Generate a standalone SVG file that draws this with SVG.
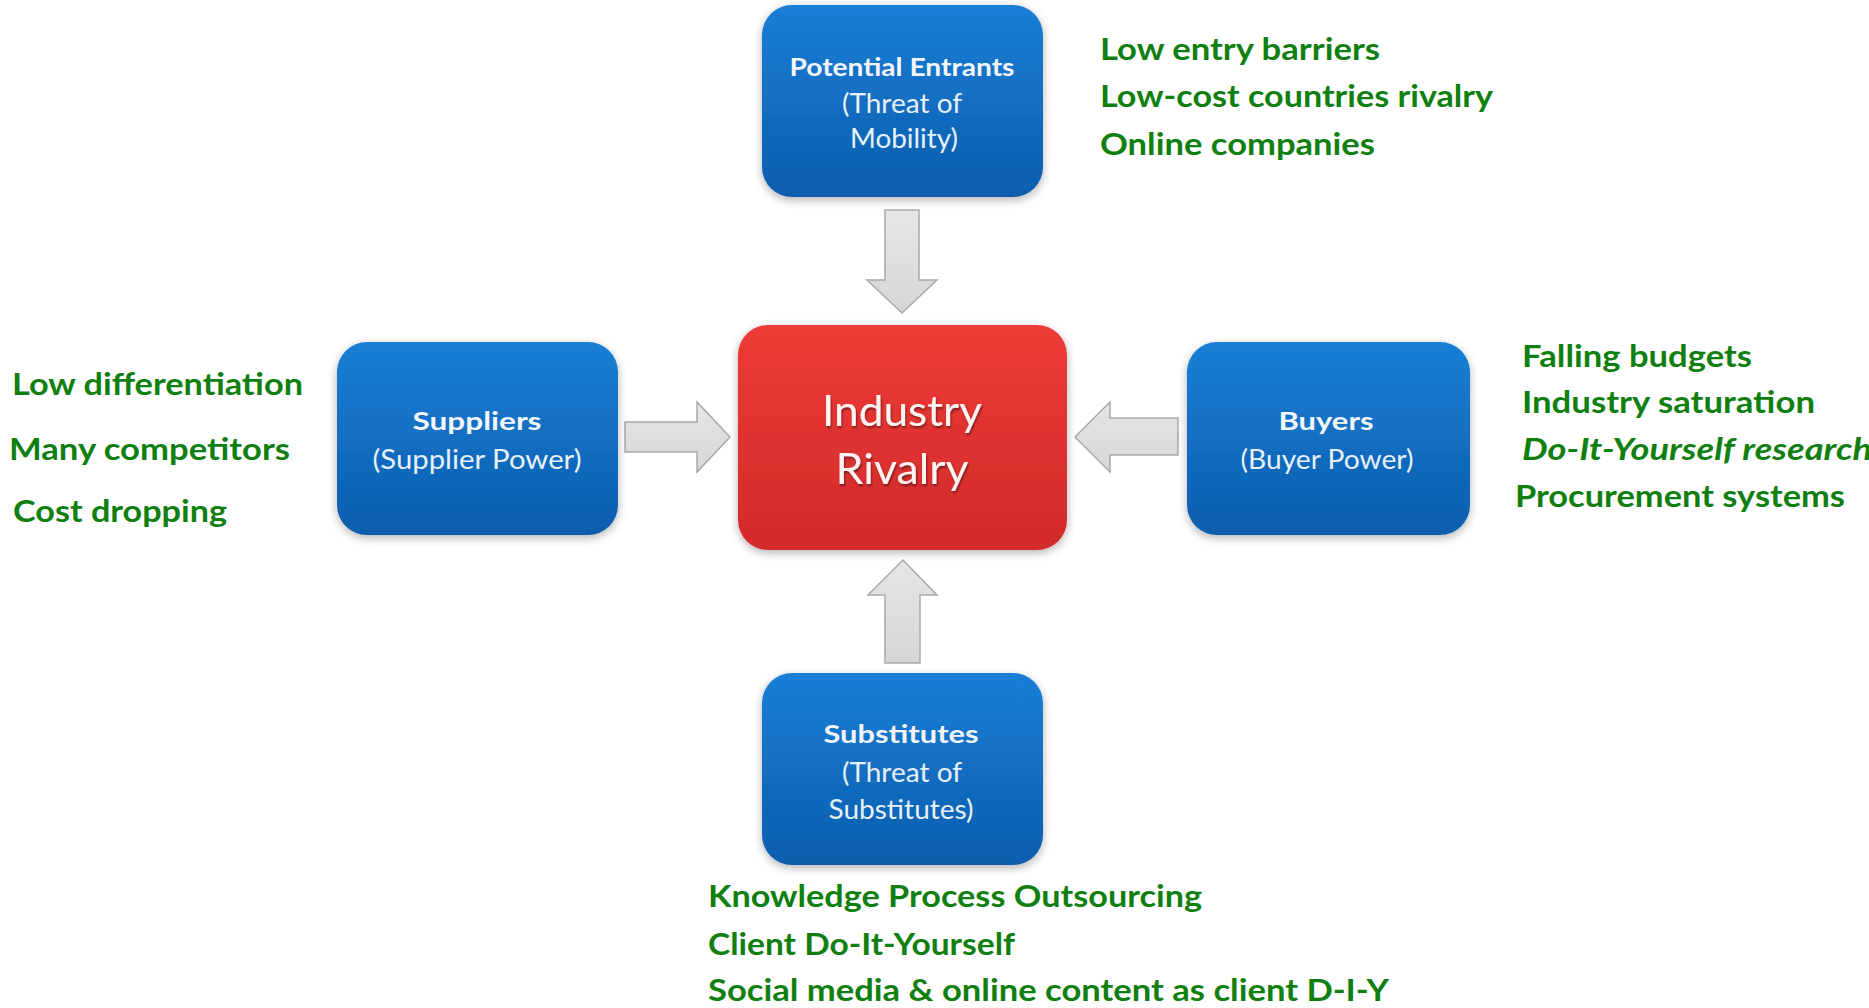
<svg xmlns="http://www.w3.org/2000/svg" width="1869" height="1008" viewBox="0 0 1869 1008">
  <style>
    .box-blue { fill: url(#gBlue); }
    .box-red { fill: url(#gRed); }
    .box { filter: url(#soft); }
    .title { font-family: Lato, "Open Sans", sans-serif; font-weight: 700; fill: #f3f7fc; text-anchor: middle; }
    .sub { font-family: Lato, "Open Sans", sans-serif; font-weight: 400; fill: #e8f0fa; text-anchor: middle; }
    .big { font-family: Lato, "Open Sans", sans-serif; font-weight: 400; fill: #fdf3f3; text-anchor: middle; filter: url(#txtShadow); }
    .note { font-family: Lato, "Open Sans", sans-serif; font-weight: 700; fill: #0f800f; font-size: 31px; }
    .arrow { fill: url(#gArrow); stroke: #a9a9a9; stroke-width: 1.5; }
  </style>
  <defs>
    <linearGradient id="gBlue" x1="0" y1="0" x2="0" y2="1">
      <stop offset="0" stop-color="#1a7fd6"/>
      <stop offset="1" stop-color="#0b5dad"/>
    </linearGradient>
    <linearGradient id="gRed" x1="0" y1="0" x2="0" y2="1">
      <stop offset="0" stop-color="#ee3b37"/>
      <stop offset="1" stop-color="#d22a2b"/>
    </linearGradient>
    <linearGradient id="gArrow" x1="0" y1="0" x2="0" y2="1">
      <stop offset="0" stop-color="#e6e6e6"/>
      <stop offset="1" stop-color="#d6d6d6"/>
    </linearGradient>
    <filter id="soft" x="-10%" y="-10%" width="120%" height="125%">
      <feGaussianBlur in="SourceAlpha" stdDeviation="5"/>
      <feOffset dx="0" dy="3" result="b"/>
      <feComponentTransfer><feFuncA type="linear" slope="0.3"/></feComponentTransfer>
      <feMerge><feMergeNode/><feMergeNode in="SourceGraphic"/></feMerge>
    </filter>
    <filter id="txtShadow" x="-10%" y="-20%" width="120%" height="140%">
      <feGaussianBlur in="SourceAlpha" stdDeviation="1.2"/>
      <feOffset dx="1" dy="2"/>
      <feComponentTransfer><feFuncA type="linear" slope="0.45"/></feComponentTransfer>
      <feMerge><feMergeNode/><feMergeNode in="SourceGraphic"/></feMerge>
    </filter>
  </defs>

  <rect width="1869" height="1008" fill="#ffffff"/>

  <!-- block arrows pointing into the central box -->
  <g id="connectors">
    <path class="arrow" d="M885,210 H919 V280 H937 L902,313 L867,280 H885 Z"/>
    <path class="arrow" d="M625,422 H697 V402 L730,437 L697,472 V452 H625 Z"/>
    <path class="arrow" d="M1178,418 H1110 V402 L1075,437 L1110,472 V455 H1178 Z"/>
    <path class="arrow" d="M885,663 V595 H868 L903,560 L937,595 H920 V663 Z"/>
  </g>

  <g id="potential-entrants">
    <rect class="box box-blue" x="762" y="5" width="281" height="192" rx="30"/>
    <text class="title" x="902" y="76" font-size="25" textLength="225" lengthAdjust="spacingAndGlyphs">Potential Entrants</text>
    <text class="sub" x="902" y="113" font-size="26" textLength="120" lengthAdjust="spacingAndGlyphs">(Threat of</text>
    <text class="sub" x="904" y="148" font-size="26" textLength="108" lengthAdjust="spacingAndGlyphs">Mobility)</text>
  </g>

  <g id="industry-rivalry">
    <rect class="box box-red" x="738" y="325" width="329" height="225" rx="30"/>
    <text class="big" x="902" y="426" font-size="42" textLength="160" lengthAdjust="spacingAndGlyphs">Industry</text>
    <text class="big" x="902" y="484" font-size="42" textLength="133" lengthAdjust="spacingAndGlyphs">Rivalry</text>
  </g>

  <g id="suppliers">
    <rect class="box box-blue" x="337" y="342" width="281" height="193" rx="30"/>
    <text class="title" x="477" y="430" font-size="25" textLength="129" lengthAdjust="spacingAndGlyphs">Suppliers</text>
    <text class="sub" x="477" y="469" font-size="26" textLength="209" lengthAdjust="spacingAndGlyphs">(Supplier Power)</text>
  </g>

  <g id="buyers">
    <rect class="box box-blue" x="1187" y="342" width="283" height="193" rx="30"/>
    <text class="title" x="1326" y="430" font-size="25" textLength="95" lengthAdjust="spacingAndGlyphs">Buyers</text>
    <text class="sub" x="1327" y="469" font-size="26" textLength="173" lengthAdjust="spacingAndGlyphs">(Buyer Power)</text>
  </g>

  <g id="substitutes">
    <rect class="box box-blue" x="762" y="673" width="281" height="192" rx="30"/>
    <text class="title" x="901" y="743" font-size="25" textLength="155" lengthAdjust="spacingAndGlyphs">Substitutes</text>
    <text class="sub" x="902" y="782" font-size="26" textLength="120" lengthAdjust="spacingAndGlyphs">(Threat of</text>
    <text class="sub" x="901" y="819" font-size="26" textLength="145" lengthAdjust="spacingAndGlyphs">Substitutes)</text>
  </g>

  <!-- factor notes -->
  <g id="entrant-factors">
    <text class="note" x="1100" y="60" textLength="280" lengthAdjust="spacingAndGlyphs">Low entry barriers</text>
    <text class="note" x="1100" y="107" textLength="393" lengthAdjust="spacingAndGlyphs">Low-cost countries rivalry</text>
    <text class="note" x="1100" y="155" textLength="275" lengthAdjust="spacingAndGlyphs">Online companies</text>
  </g>

  <g id="supplier-factors">
    <text class="note" x="12" y="395" textLength="291" lengthAdjust="spacingAndGlyphs">Low differentiation</text>
    <text class="note" x="9" y="460" textLength="281" lengthAdjust="spacingAndGlyphs">Many competitors</text>
    <text class="note" x="13" y="522" textLength="214" lengthAdjust="spacingAndGlyphs">Cost dropping</text>
  </g>

  <g id="buyer-factors">
    <text class="note" x="1522" y="367" textLength="230" lengthAdjust="spacingAndGlyphs">Falling budgets</text>
    <text class="note" x="1522" y="413" textLength="293" lengthAdjust="spacingAndGlyphs">Industry saturation</text>
    <text class="note" x="1522" y="460" font-style="italic" textLength="350" lengthAdjust="spacingAndGlyphs">Do-It-Yourself research</text>
    <text class="note" x="1515" y="507" textLength="330" lengthAdjust="spacingAndGlyphs">Procurement systems</text>
  </g>

  <g id="substitute-factors">
    <text class="note" x="708" y="907" textLength="494" lengthAdjust="spacingAndGlyphs">Knowledge Process Outsourcing</text>
    <text class="note" x="708" y="955" textLength="307" lengthAdjust="spacingAndGlyphs">Client Do-It-Yourself</text>
    <text class="note" x="708" y="1001" textLength="681" lengthAdjust="spacingAndGlyphs">Social media &amp; online content as client D-I-Y</text>
  </g>
</svg>
